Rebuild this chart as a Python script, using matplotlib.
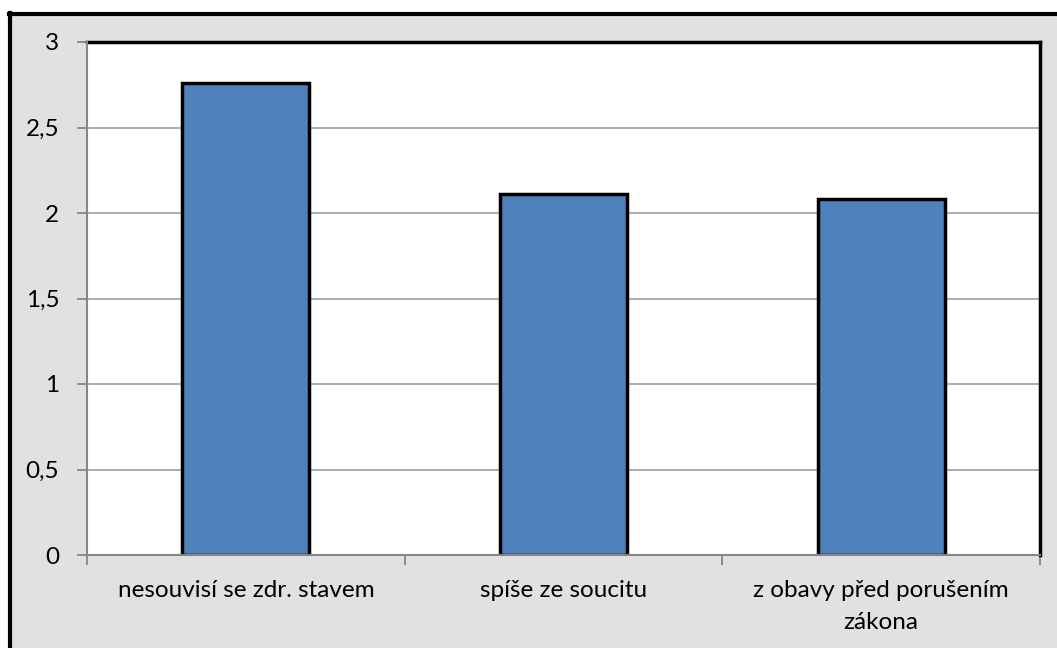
import matplotlib.pyplot as plt
from matplotlib.patches import Rectangle
from matplotlib.lines import Line2D
import numpy as np

categories = ['nesouvisí se zdr. stavem', 'spíše ze soucitu', 'z obavy před porušením\nzákona']
values = [2.76, 2.11, 2.08]
yticks = [0, 0.5, 1, 1.5, 2, 2.5, 3]
ytick_labels = ['0', '0,5', '1', '1,5', '2', '2,5', '3']

plt.rcParams['font.family'] = ['Lato', 'DejaVu Sans']

fig = plt.figure(figsize=(10.57, 6.48), dpi=100)
fig.patch.set_facecolor('white')

# grey chart area with black frame on left and top
x0, y0 = 10 / 1057, 1 - 14 / 648
fig.patches.append(Rectangle((x0, 0), 1 - x0, y0, transform=fig.transFigure,
                             facecolor='#e1e1e1', edgecolor='none', zorder=-2))
fig.lines.append(Line2D([x0, x0], [0, y0 + 0.002], transform=fig.transFigure,
                        color='black', lw=3, zorder=-1))
fig.lines.append(Line2D([x0 - 0.0014, 1], [y0, y0], transform=fig.transFigure,
                        color='black', lw=3, zorder=-1))

ax = fig.add_axes([87 / 1057, 1 - 555 / 648, (1040 - 87) / 1057, (555 - 42) / 648])
ax.set_facecolor('white')

x = np.arange(len(categories))
ax.bar(x, values, width=0.4, color='#4f81bd', edgecolor='black', linewidth=2.5, zorder=3)

ax.set_xlim(-0.5, len(categories) - 0.5)
ax.set_ylim(0, 3)
ax.set_yticks(yticks)
ax.set_yticklabels(ytick_labels, fontsize=17.5)
ax.yaxis.grid(True, color='#a6a6a6', linewidth=1.3, zorder=1)

ax.set_xticks(x)
ax.set_xticklabels(categories, fontsize=17.5, linespacing=1.65)
ax.set_xticks(np.arange(-0.5, len(categories)), minor=True)
ax.tick_params(axis='x', which='major', length=0, pad=18)
ax.tick_params(axis='x', which='minor', length=7, color='#868686', width=1.3)
ax.tick_params(axis='y', length=7, color='#868686', width=1.3, pad=13)

for side in ['top', 'right']:
    ax.spines[side].set_color('black')
    ax.spines[side].set_linewidth(2.5)
for side in ['left', 'bottom']:
    ax.spines[side].set_color('#868686')
    ax.spines[side].set_linewidth(1.5)
    ax.spines[side].set_zorder(4)

fig.savefig('out.png', dpi=100)
